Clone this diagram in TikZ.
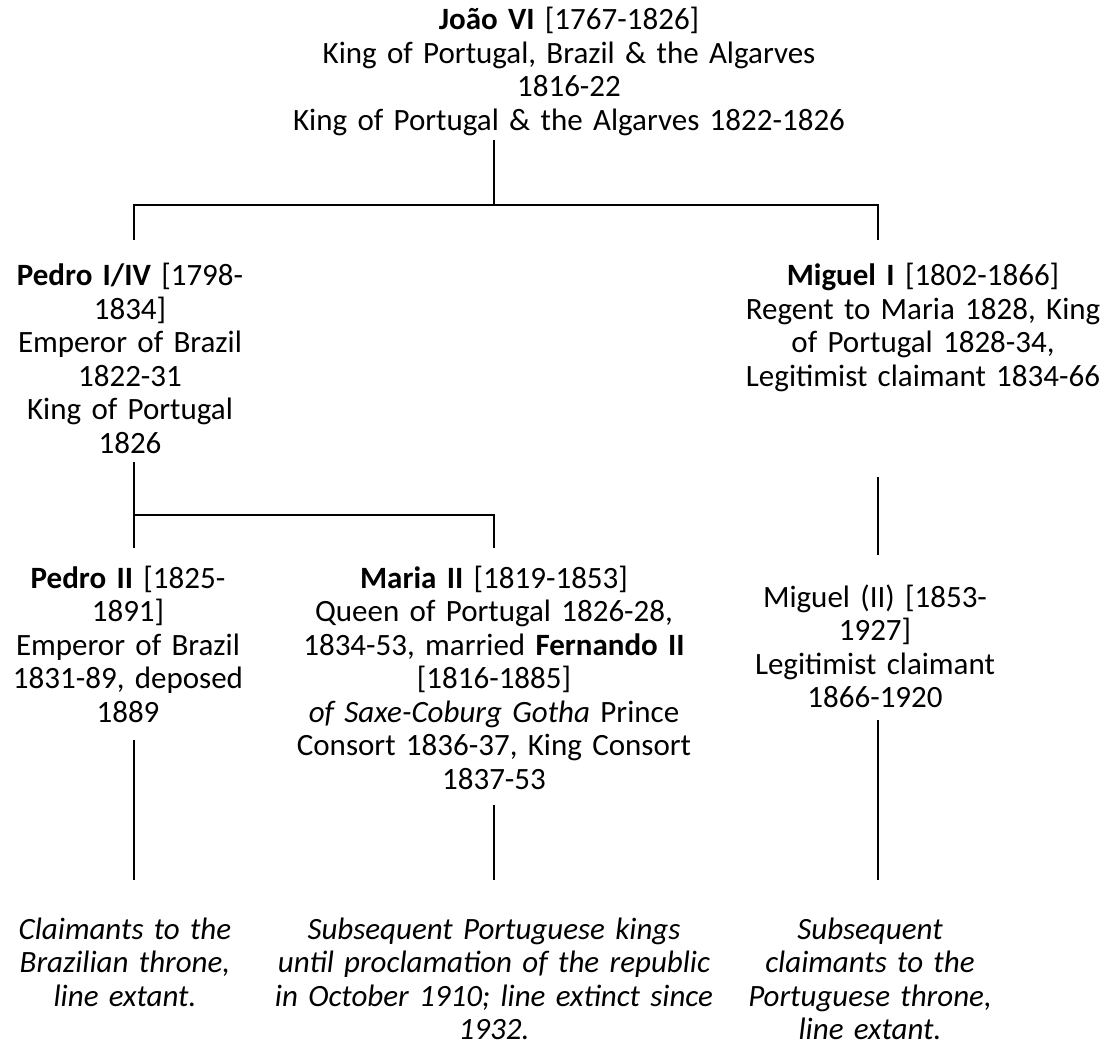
\documentclass[tikz,border=0pt]{standalone}
\usepackage{fontspec}
\setmainfont{Carlito}
\begin{document}
\begin{tikzpicture}[x=1pt,y=-1pt,
  every node/.style={font=\fontsize{31}{33.5}\selectfont,
    inner sep=0pt, align=center, anchor=base},
  person/.style={text width=#1},
  person/.default=290pt,
  note/.style={text width=#1, font=\fontsize{31}{33.5}\selectfont\itshape},
  line/.style={line width=1.8pt}]
  \useasboundingbox (0,0) rectangle (1109,1056);

  % generation 1
  \node[person=700pt] (joao) at (569,30)
    {\textbf{João VI} [1767-1826]\\King of Portugal, Brazil \& the Algarves\\1816-22\\King of Portugal \& the Algarves 1822-1826};

  % generation 2
  \node[person] (pedroIV) at (130,286)
    {\textbf{Pedro I/IV} [1798-\\1834]\\Emperor of Brazil\\1822-31\\King of Portugal\\1826};
  \node[person=400pt] (miguelI) at (923,286)
    {\textbf{Miguel I} [1802-1866]\\Regent to Maria 1828, King\\of Portugal 1828-34,\\Legitimist claimant 1834-66};

  % generation 3
  \node[person] (pedroII) at (128,588)
    {\textbf{Pedro II} [1825-\\1891]\\Emperor of Brazil\\1831-89, deposed\\1889};
  \node[person=480pt] (mariaII) at (494,588)
    {\textbf{Maria II} [1819-1853]\\Queen of Portugal 1826-28,\\1834-53, married \textbf{Fernando II}\\{}[1816-1885]\\\textit{of Saxe-Coburg Gotha} Prince\\Consort 1836-37, King Consort\\1837-53};
  \node[person] (miguelII) at (875,607)
    {Miguel (II) [1853-\\1927]\\Legitimist claimant\\1866-1920};

  % lines of descent
  \node[note=290pt] (brazil) at (125,939)
    {Claimants to the\\Brazilian throne,\\line extant.};
  \node[note=480pt] (portugal) at (494,939)
    {Subsequent Portuguese kings\\until proclamation of the republic\\in October 1910; line extinct since\\1932.};
  \node[note=290pt] (claimants) at (870,939)
    {Subsequent\\claimants to the\\Portuguese throne,\\line extant.};

  % connector ends
  \coordinate (joao-stem) at (494,140);
  \coordinate (joao-bus) at (494,205);
  \coordinate (pedroIV-top) at (134,240);
  \coordinate (miguelI-top) at (878,240);
  \coordinate (pedroIV-stem) at (134,462);
  \coordinate (pedroIV-bus) at (134,515);
  \coordinate (pedroII-top) at (134,548);
  \coordinate (mariaII-top) at (494,548);
  \coordinate (miguelI-stem) at (878,477);
  \coordinate (miguelII-top) at (878,555);
  \coordinate (pedroII-stem) at (134,740);
  \coordinate (mariaII-stem) at (494,805);
  \coordinate (miguelII-stem) at (878,720);
  \coordinate (brazil-top) at (134,880);
  \coordinate (portugal-top) at (494,880);
  \coordinate (claimants-top) at (878,880);

  \draw[line] (joao-stem) -- (joao-bus);
  \draw[line] (pedroIV-top) |- (joao-bus) -| (miguelI-top);
  \draw[line] (pedroIV-stem) -- (pedroII-top);
  \draw[line] (pedroIV-bus) -| (mariaII-top);
  \draw[line] (miguelI-stem) -- (miguelII-top);
  \draw[line] (pedroII-stem) -- (brazil-top);
  \draw[line] (mariaII-stem) -- (portugal-top);
  \draw[line] (miguelII-stem) -- (claimants-top);
\end{tikzpicture}
\end{document}
